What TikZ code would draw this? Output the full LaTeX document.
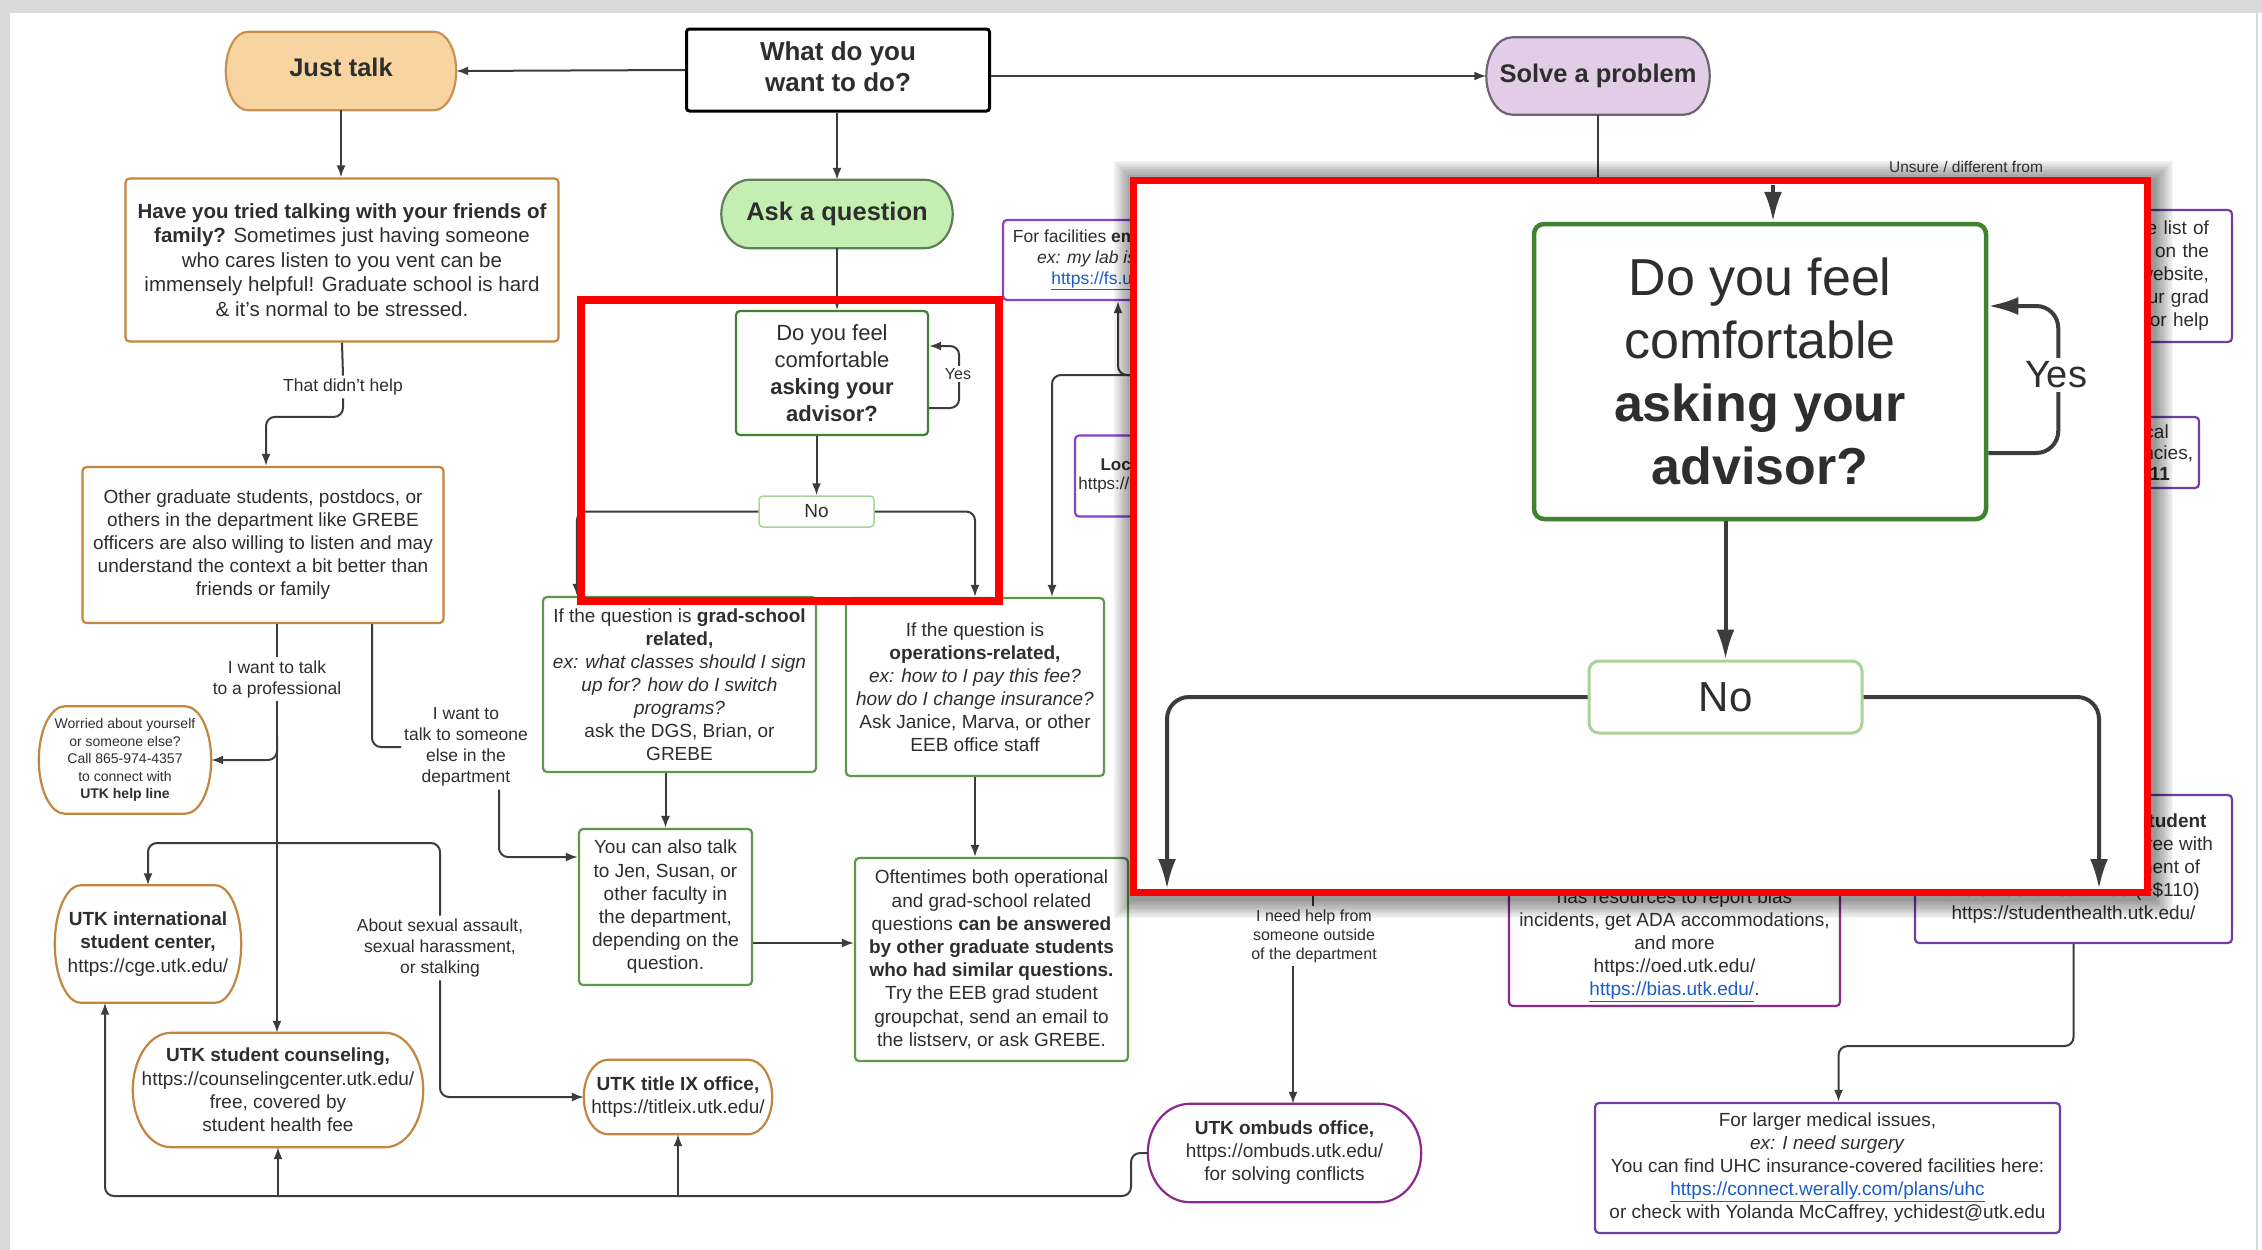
\documentclass[tikz,border=0pt]{standalone}
\usepackage{fontspec}
\setmainfont{Liberation Sans}
\usetikzlibrary{arrows.meta,calc}
\definecolor{txt}{HTML}{2E2E2E}
\definecolor{ln}{HTML}{3C3C3C}
\definecolor{orgB}{HTML}{C4863F}
\definecolor{orgF}{HTML}{F8D4A0}
\definecolor{jtB}{HTML}{C99152}
\definecolor{grnB}{HTML}{5B9A4A}
\definecolor{grnD}{HTML}{3F822F}
\definecolor{grnL}{HTML}{A9D39B}
\definecolor{grnF}{HTML}{C5EEB2}
\definecolor{aqB}{HTML}{5F7F58}
\definecolor{purF}{HTML}{E1CDE6}
\definecolor{spB}{HTML}{6F6372}
\definecolor{purB}{HTML}{6F3FA5}
\definecolor{vio}{HTML}{8A3FD0}
\definecolor{mag}{HTML}{8B2A8B}
\definecolor{lnkc}{HTML}{1A5CC8}
\definecolor{bgg}{HTML}{DADADA}
\newcommand\weblink[1]{\textcolor{lnkc}{\underline{#1}}}
\newcommand\fsz[2]{\fontsize{#1}{#2}\selectfont}
% capsule outline with half-elliptical sides around a node
\newcommand\capsule[3]{%
  \path[#3] let \p1=(#1.north west), \p2=(#1.south east), \n1={(\y1-\y2)/2} in
    (\x1+#2pt,\y1) -- (\x2-#2pt,\y1)
    arc[start angle=90, end angle=-90, x radius=#2pt, y radius=\n1]
    -- (\x1+#2pt,\y2)
    arc[start angle=270, end angle=90, x radius=#2pt, y radius=\n1] -- cycle;}
\tikzset{
 every node/.style={text=txt, align=center, inner sep=0pt},
 sz/.style 2 args={minimum width=#1pt, minimum height=#2pt},
 box/.style={draw=#1, line width=2.2pt, rounded corners=4pt, fill=white},
 capline/.style={draw=#1, line width=2.2pt},
 conn/.style={draw=ln, line width=2pt, rounded corners=9pt},
 arr/.style={conn, -{Latex[length=12pt,width=9pt]}},
 arrB/.style={draw=ln, line width=4pt, rounded corners=22pt, -{Latex[length=30pt,width=18pt]}},
 lbl/.style={inner sep=3pt, font=\fsz{17.5}{21}},
}
\begin{document}
\begin{tikzpicture}[x=1pt,y=-1pt]
\useasboundingbox (0,0) rectangle (2262,1250);
\fill[bgg] (0,0) rectangle (2262,1250);
\fill[white] (10,13) rectangle (2256,1250);
\fill[white] (2258,13) rectangle (2262,1250);

% ---------- top row
\node[sz={230}{78}] (jt) at (341,71) {};
\capsule{jt}{22}{capline=jtB, fill=orgF}
\node[font=\fsz{25.5}{30}\bfseries] (jtT) at (341,67) {Just talk};
\node[draw=black, line width=3pt, rounded corners=3pt, fill=white, sz={303}{82}] (wd) at (838,70) {};
\node[font=\fsz{26}{31}\bfseries] (wdT) at (838,67) {What do you\\want to do?};
\node[sz={223}{77}] (sp) at (1598,76) {};
\capsule{sp}{26}{capline=spB, fill=purF}
\node[font=\fsz{25.5}{30}\bfseries] (spT) at (sp) {Solve a problem};
\node[sz={231}{68}] (aq) at (837,214) {};
\capsule{aq}{28}{capline=aqB, fill=grnF}
\node[font=\fsz{25.5}{30}\bfseries] (aqT) at (aq) {Ask a question};

% ---------- left column
\node[box=orgB, sz={433}{163}, font=\fsz{20.5}{24.5}] (ht) at (342,260) {\textbf{Have you tried talking with your friends of}\\\textbf{family?} Sometimes just having someone\\who cares listen to you vent can be\\immensely helpful! Graduate school is hard\\\& it's normal to be stressed.};
\node[lbl] (l1) at (343,387) {That didn't help};
\node[box=orgB, sz={361}{156}, font=\fsz{19}{23}] (og) at (263,545) {Other graduate students, postdocs, or\\others in the department like GREBE\\officers are also willing to listen and may\\understand the context a bit better than\\friends or family};
\node[lbl] (l2) at (277,679) {I want to talk\\to a professional};
\node[lbl] (l3) at (466,747) {I want to\\talk to someone\\else in the\\department};
\node[sz={172}{107}] (wo) at (125,760) {};
\capsule{wo}{26}{capline=orgB, fill=white}
\node[font=\fsz{14}{17.5}] (woT) at (wo) {Worried about yourself\\or someone else?\\Call 865-974-4357\\to connect with\\\textbf{UTK help line}};
\node[sz={186}{117}] (is) at (148,944) {};
\capsule{is}{26}{capline=orgB, fill=white}
\node[font=\fsz{19}{23.5}] (isT) at (is) {\textbf{UTK international}\\\textbf{student center,}\\https://cge.utk.edu/};
\node[sz={290}{114}] (sc) at (278,1090) {};
\capsule{sc}{38}{capline=orgB, fill=white}
\node[font=\fsz{19}{23.3}] (scT) at (sc) {\textbf{UTK student counseling,}\\https://counselingcenter.utk.edu/\\free, covered by\\student health fee};
\node[lbl] (l4) at (440,948) {About sexual assault,\\sexual harassment,\\or stalking};
\node[sz={188}{74}] (tix) at (678,1097) {};
\capsule{tix}{24}{capline=orgB, fill=white}
\node[font=\fsz{19}{23}] (tixT) at (tix) {\textbf{UTK title IX office,}\\https://titleix.utk.edu/};

% ---------- middle column
\node[box=grnD, sz={192}{124}, font=\fsz{22}{27}] (df) at (832,373) {Do you feel\\comfortable\\\textbf{asking your}\\\textbf{advisor?}};
\node[draw=grnL, line width=1.5pt, rounded corners=4pt, fill=white, sz={115}{31}, font=\fsz{19}{23}] (no) at (816.5,511.5) {No};
\node[box=grnB, sz={273}{175}, font=\fsz{19}{23}] (gs) at (679.5,684.5) {If the question is \textbf{grad-school}\\\textbf{related,}\\\textit{ex: what classes should I sign}\\\textit{up for? how do I switch}\\\textit{programs?}\\ask the DGS, Brian, or\\GREBE};
\node[box=grnB, sz={258}{178}, font=\fsz{19}{23}] (op) at (975,687) {If the question is\\\textbf{operations-related,}\\\textit{ex: how to I pay this fee?}\\\textit{how do I change insurance?}\\Ask Janice, Marva, or other\\EEB office staff};
\node[box=grnB, sz={173}{156}, font=\fsz{19}{23.2}] (ya) at (665.5,907) {You can also talk\\to Jen, Susan, or\\other faculty in\\the department,\\depending on the\\question.};
\node[box=grnB, sz={273}{203}, font=\fsz{19}{23.2}] (of) at (991.5,959.5) {Oftentimes both operational\\and grad-school related\\questions \textbf{can be answered}\\\textbf{by other graduate students}\\\textbf{who had similar questions.}\\Try the EEB grad student\\groupchat, send an email to\\the listserv, or ask GREBE.};

% ---------- right side (partly covered)
\node[box=vio, sz={230}{80}, font=\fsz{17.5}{21}] (fa) at (1118,260) {For facilities \textbf{emergencies},\\\textit{ex: my lab is flooded}\\\weblink{https://fs.utk.edu/}};
\node[box=vio, sz={190}{81}, font=\fsz{17}{19}] (lk) at (1170,476) {\textbf{Lockout services}\\https://lockshop.utk.edu/};
\node[box=purB, sz={252}{132}, text width=206pt, align=right, font=\fsz{19}{23}] (r1) at (2106,276) {Check out the list of\\resources on the\\EEB website,\\or ask your grad\\coordinator for help};
\node[box=purB, sz={126}{71}, font=\fsz{19}{21}] (r2) at (2136,452.5) {Medical\\emergencies,\\\textbf{call 911}};
\node[box=purB, sz={317}{148}, font=\fsz{19}{23}] (shb) at (2073.5,869) {For minor issues, \textbf{UTK Student}\\\textbf{Health Center}, which is free with\\your per-semester payment of\\the student health fee (\textasciitilde\$110)\\https://studenthealth.utk.edu/};
\node[box=mag, sz={331}{143}, font=\fsz{19}{23}] (bias) at (1674.5,934.5) {\textbf{Office of Equity and Diversity}\\has resources to report bias\\incidents, get ADA accommodations,\\and more\\https://oed.utk.edu/\\\weblink{https://bias.utk.edu/}.};
\node[box=purB, sz={465}{130}, font=\fsz{19}{23}] (uhc) at (1827.5,1168) {For larger medical issues,\\\textit{ex: I need surgery}\\You can find UHC insurance-covered facilities here:\\\weblink{https://connect.werally.com/plans/uhc}\\or check with Yolanda McCaffrey, ychidest@utk.edu};
\node[sz={273}{98}] (om) at (1284.5,1153) {};
\capsule{om}{42}{capline=mag, fill=white}
\node[font=\fsz{19}{23}] (omT) at (om) {\textbf{UTK ombuds office,}\\https://ombuds.utk.edu/\\for solving conflicts};
\node[inner sep=3pt, font=\fsz{16}{19}] (l5) at (1314,936) {I need help from\\someone outside\\of the department};

% ---------- connectors
\draw[arr] (wd.west) -- (jt.east);
\draw[arr] (wd.east |- sp.west) -- (sp.west);
\draw[arr] (wd.south -| aq.north) -- (aq.north);
\draw[conn] (sp.south) -- ++(0,120);
\draw[arr] (jt.south) -- (jt.south |- ht.north);
\draw[conn] (ht.south) -- (l1.north);
\draw[arr] (l1.south) |- ($(og.north)+(3,-49)$) -- ($(og.north)+(3,0)$);
\coordinate (og1) at ($(og.south)+(14,0)$);
\draw[conn] (og1) -- (og1 |- l2.north);
\coordinate (bus1) at (277,843);
\draw[conn] (l2.south) -- (bus1);
\coordinate (wj) at (277,735);
\draw[arr] (wj) |- (wo.east);
\draw[arr] (bus1) -| (is.north);
\draw[arr] (bus1) -- (bus1 |- sc.north);
\draw[conn] (bus1) -| (l4.north);
\draw[arr] (l4.south) |- (tix.west);
\coordinate (og2) at ($(og.south)+(109,0)$);
\draw[conn] (og2) |- (l3.west);
\draw[arr] ($(l3.south)+(33,0)$) |- ($(ya.west)+(0,-50)$);

\draw[arr] (aq.south) -- (aq.south |- df.north);
\draw[arr] ($(df.east)+(0,35)$) -- ++(30,0) -- ++(0,-62) -- ($(df.east)+(0,-27)$);
\node[fill=white, inner sep=2pt, font=\fsz{16}{18}] (yes) at (958,374) {Yes};
\draw[arr] (no.north |- df.south) -- (no.north);
\draw[arr] (no.west) -| ($(gs.north west)+(35,0)$);
\draw[arr] (no.east) -| (op.north);
\draw[arr] (gs.south -| ya.north) -- (ya.north);
\draw[arr] (op.south) -- (op.south |- of.north);
\coordinate (yaE) at ($(ya.east)+(0,36)$);
\draw[arr] (yaE) -- (yaE -| of.west);
\coordinate (fj) at (1145,375);
\draw[arr] (fj) -| (fa.south);
\draw[arr] (fj) -| ($(op.north)+(77,0)$);

\coordinate (l5top) at (1313,880);
\draw[conn] (l5top) -- (l5top |- l5.north);
\coordinate (l5b) at ($(l5.south)+(-21,0)$);
\draw[arr] (l5b) -- (l5b |- om.north);
\draw[arr] (shb.south) -- ++(0,102) -| ($(uhc.north)+(11,0)$);
\coordinate (bb) at (1131,1196);
\draw[arr] (om.west) -| (bb) -| ($(is.south)+(-43,0)$);
\draw[arr] (sc.south |- bb) -- (sc.south);
\draw[arr] (tix.south |- bb) -- (tix.south);

% ---------- small red frame
\draw[red, line width=8pt] (581,300) rectangle (999,601);

% ---------- magnified inset
\foreach \i in {1,...,12} {
  \fill[black, opacity=0.04] ({1133-1.6*\i},{180-1.6*\i}) rectangle ({2154+1.6*\i},{899+1.6*\i});
}
\fill[white] (1130,177) rectangle (2151,896);
\node[draw=grnD, line width=4.5pt, rounded corners=10pt, fill=white, sz={452}{295}, font=\fsz{52}{63}] (Df) at (1760,371.5) {Do you feel\\comfortable\\\textbf{asking your}\\\textbf{advisor?}};
\coordinate (itop) at (1773,185);
\draw[arrB] (itop) -- (itop |- Df.north);
\draw[arrB] ($(Df.east)+(0,81.5)$) -- ++(70,0) -- ++(0,-147) -- ($(Df.east)+(0,-65.5)$);
\node[fill=white, inner sep=4pt, font=\fsz{38}{40}] (Yes2) at (2056,375) {Yes};
\node[draw=grnL, line width=3pt, rounded corners=10pt, fill=white, sz={273}{72}, font=\fsz{42}{46}] (No2) at (1725.5,697) {No};
\draw[arrB] (No2.north |- Df.south) -- (No2.north);
\coordinate (iL) at (1167,889);
\coordinate (iR) at (2099,889);
\draw[arrB] (No2.west) -| (iL);
\draw[arrB] (No2.east) -| (iR);
\draw[red, line width=7pt] (1133.5,180.5) rectangle (2147.5,892.5);

\node[font=\fsz{15.5}{17}] (uns) at (1966,167) {Unsure / different from};
\end{tikzpicture}
\end{document}
